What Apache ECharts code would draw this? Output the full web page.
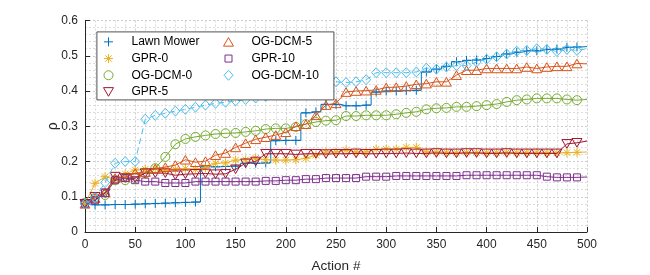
<!DOCTYPE html>
<html><head><meta charset="utf-8">
<script src="https://cdn.jsdelivr.net/npm/echarts@6/dist/echarts.min.js"></script>
<style>html,body{margin:0;padding:0;background:#fff}#c{width:650px;height:275px}</style>
</head><body><div id="c"></div>
<script>
// x positions (Action #); markers at every entry except the last
const actions = [0,10,20,30,40,50,60,70,80,90,100,110,120,130,140,150,160,170,180,190,200,210,220,230,240,250,260,270,280,290,300,310,320,330,340,350,360,370,380,390,400,410,420,430,440,450,460,470,480,490,500];

const lawnMower = [0.080,0.077,0.077,0.078,0.078,0.079,0.080,0.081,0.082,0.083,0.084,0.085,0.185,0.185,0.186,0.187,0.195,0.195,0.196,0.259,0.260,0.260,0.338,0.341,0.362,0.362,0.358,0.358,0.360,0.397,0.400,0.400,0.401,0.402,0.454,0.462,0.470,0.483,0.487,0.488,0.492,0.498,0.505,0.510,0.514,0.514,0.518,0.519,0.524,0.525,0.526];
const gpr0 = [0.080,0.138,0.157,0.150,0.165,0.176,0.178,0.180,0.175,0.178,0.180,0.178,0.182,0.195,0.196,0.204,0.205,0.209,0.205,0.204,0.204,0.205,0.209,0.218,0.227,0.227,0.232,0.227,0.227,0.235,0.235,0.235,0.240,0.240,0.227,0.227,0.226,0.225,0.226,0.225,0.225,0.225,0.226,0.225,0.225,0.226,0.225,0.224,0.225,0.226,0.227];
const ogdcm0 = [0.083,0.097,0.105,0.147,0.147,0.153,0.167,0.181,0.213,0.249,0.264,0.270,0.274,0.278,0.280,0.281,0.284,0.287,0.292,0.294,0.294,0.298,0.306,0.312,0.316,0.317,0.329,0.329,0.331,0.331,0.331,0.334,0.338,0.341,0.348,0.351,0.352,0.355,0.355,0.357,0.360,0.363,0.369,0.374,0.376,0.379,0.379,0.379,0.376,0.374,0.376];
const gpr5 = [0.080,0.100,0.110,0.157,0.153,0.153,0.167,0.167,0.167,0.161,0.164,0.165,0.166,0.164,0.165,0.178,0.195,0.200,0.222,0.222,0.222,0.220,0.222,0.222,0.221,0.222,0.222,0.223,0.222,0.222,0.223,0.223,0.224,0.223,0.223,0.224,0.223,0.223,0.224,0.224,0.223,0.223,0.224,0.223,0.223,0.223,0.223,0.223,0.250,0.253,0.258];
const ogdcm5 = [0.080,0.096,0.113,0.153,0.156,0.167,0.170,0.180,0.184,0.190,0.205,0.198,0.201,0.218,0.224,0.240,0.252,0.263,0.269,0.275,0.283,0.300,0.306,0.331,0.360,0.365,0.397,0.400,0.401,0.403,0.410,0.411,0.414,0.419,0.421,0.426,0.426,0.445,0.459,0.459,0.464,0.464,0.464,0.464,0.468,0.464,0.468,0.470,0.470,0.478,0.477];
const gpr10 = [0.080,0.090,0.110,0.147,0.153,0.147,0.143,0.143,0.139,0.139,0.139,0.143,0.143,0.143,0.143,0.143,0.143,0.143,0.145,0.145,0.147,0.147,0.150,0.150,0.153,0.153,0.153,0.153,0.157,0.157,0.157,0.159,0.159,0.159,0.159,0.159,0.159,0.159,0.161,0.161,0.161,0.161,0.161,0.161,0.161,0.161,0.157,0.155,0.155,0.155,0.156];
const ogdcm10 = [0.080,0.097,0.140,0.195,0.200,0.200,0.320,0.331,0.337,0.343,0.348,0.354,0.360,0.365,0.368,0.372,0.376,0.380,0.385,0.390,0.395,0.400,0.405,0.410,0.418,0.426,0.424,0.426,0.432,0.452,0.452,0.452,0.452,0.454,0.465,0.462,0.468,0.472,0.472,0.482,0.490,0.497,0.505,0.513,0.515,0.520,0.518,0.512,0.518,0.515,0.520];

const legendCol1 = ['Lawn Mower','GPR-0','OG-DCM-0','GPR-5'];
const legendCol2 = ['OG-DCM-5','GPR-10','OG-DCM-10'];
const xTicks = {min:0, max:500, interval:50};
const yTicks = {min:0, max:0.6, interval:0.1};

const PAD = 'M0,0M12,12';
const SYM = {
  plus: 'path://' + PAD + 'M1.5,6L10.5,6M6,1.5L6,10.5',
  aster: 'path://' + PAD + 'M6,1.5L6,10.5M1.5,6L10.5,6M2.8,2.8L9.2,9.2M2.8,9.2L9.2,2.8',
  circle: 'path://' + PAD + 'M1.5,6A4.5,4.5,0,1,1,10.5,6A4.5,4.5,0,1,1,1.5,6Z',
  triUp: 'path://' + PAD + 'M6,1.7L11,10.3L1,10.3Z',
  triDown: 'path://' + PAD + 'M1,1.7L11,1.7L6,10.3Z',
  square: 'path://' + PAD + 'M2.5,2.5L9.5,2.5L9.5,9.5L2.5,9.5Z',
  diamond: 'path://' + PAD + 'M6,1L10.5,6L6,11L1.5,6Z'
};

const defs = [
  {name:'Lawn Mower', data:lawnMower, color:'#0072BD', sym:SYM.plus, step:'middle', dash:'solid'},
  {name:'GPR-0', data:gpr0, color:'#EDB120', sym:SYM.aster, dash:'solid'},
  {name:'OG-DCM-0', data:ogdcm0, color:'#77AC30', sym:SYM.circle, dash:'solid'},
  {name:'GPR-5', data:gpr5, color:'#A2142F', sym:SYM.triDown, dash:'solid'},
  {name:'OG-DCM-5', data:ogdcm5, color:'#D95319', sym:SYM.triUp, dash:'solid'},
  {name:'GPR-10', data:gpr10, color:'#7E2F8E', sym:SYM.square, dash:'solid'},
  {name:'OG-DCM-10', data:ogdcm10, color:'#4DBEEE', sym:SYM.diamond, dash:[6,4]}
];

const FONT = 'Liberation Sans, Arial, Helvetica, sans-serif';
const series = [];
defs.forEach((d, k) => {
  series.push({
    type:'line', name:d.name + ' (line)', data: actions.map((x,i)=>[x, d.data[i]]),
    showSymbol:false, step: d.step || false, silent:true,
    lineStyle:{color:d.color, width:1, type:d.dash}, z: 2 + k*0.01
  });
  series.push({
    type:'scatter', name:d.name, data: actions.slice(0, actions.length-1).map((x,i)=>[x, d.data[i]]),
    symbol:d.sym, symbolSize:12, silent:true,
    itemStyle:{color:'rgba(0,0,0,0)', borderColor:d.color, borderWidth:1, opacity:1},
    z: 2 + k*0.01
  });
});

const legendItem = (name) => {
  const d = defs.find(e => e.name === name);
  return {name:name, icon:d.sym, itemStyle:{color:'rgba(0,0,0,0)', borderColor:d.color, borderWidth:1}};
};

const legendBase = {
  orient:'vertical', padding:0, itemGap:0, itemWidth:36, itemHeight:12,
  selectedMode:false, symbolKeepAspect:true,
  itemStyle:{borderWidth:1},
  textStyle:{fontSize:12, color:'#000', fontFamily:FONT, lineHeight:16.7}
};

const axisCommon = (name) => ({
  type:'value',
  axisLine:{show:true, lineStyle:{color:'#262626', width:1}},
  axisTick:{show:true, inside:true, length:5, lineStyle:{color:'#262626', width:1}},
  axisLabel:{fontSize:12, color:'#262626', fontFamily:FONT, margin:7},
  splitLine:{show:true, lineStyle:{color:'#cccccc', width:1, type:[2,2]}},
  minorTick:{show:false, splitNumber:5},
  minorSplitLine:{show:true, lineStyle:{color:'#dcdcdc', width:1, type:[2,2]}},
  name:name, nameLocation:'middle', nameMoveOverlap:false
});

const chart = echarts.init(document.getElementById('c'), null, {renderer:'canvas'});
chart.setOption({
  animation:false,
  backgroundColor:'#fff',
  grid:{left:85, right:63, top:20.5, bottom:43, containLabel:false, outerBoundsMode:'none'},
  xAxis: Object.assign(axisCommon('Action #'), xTicks, {
    nameGap:27, nameTextStyle:{fontSize:13.5, color:'#262626', fontFamily:FONT}
  }),
  yAxis: Object.assign(axisCommon('ρ'), yTicks, {
    nameGap:25, nameRotate:90, nameTextStyle:{fontSize:14, color:'#262626', fontFamily:FONT}
  }),
  legend:[
    Object.assign({}, legendBase, {left:102, top:33.5, data:legendCol1.map(legendItem)}),
    Object.assign({}, legendBase, {left:222, top:33.5, data:legendCol2.map(legendItem)})
  ],
  graphic:{elements:[{
    type:'rect', left:96.5, top:31.5, z:3,
    shape:{width:237, height:68},
    style:{fill:'#fff', stroke:'#262626', lineWidth:0.8}
  }]},
  series: series
});
</script></body></html>
